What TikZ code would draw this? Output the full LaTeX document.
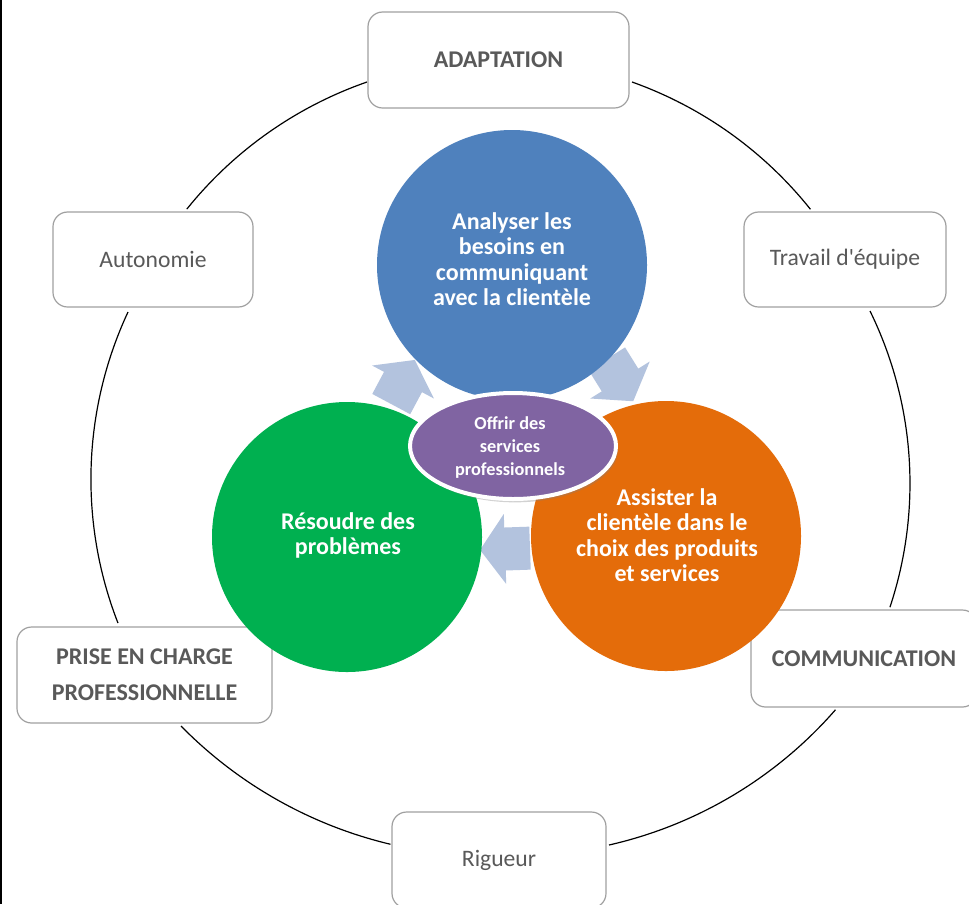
\documentclass[tikz,border=0pt]{standalone}
\usepackage{fontspec}
\setmainfont[Ligatures=TeXOff]{Carlito}
\usetikzlibrary{shapes.geometric,shadows}
\definecolor{cblue}{HTML}{4F81BD}
\definecolor{corange}{HTML}{E46C0A}
\definecolor{cgreen}{HTML}{00B050}
\definecolor{cpurple}{HTML}{8064A2}
\definecolor{carrow}{HTML}{B3C3DE}
\definecolor{boxline}{HTML}{A0A0A0}
\definecolor{tgray}{HTML}{595959}
\newcommand{\blockarrow}[2]{%
  \begin{scope}[shift={(#1)}, rotate=#2]
    \fill[carrow] (-25,-21.5) -- (0,-21.5) -- (0,-35) -- (25,0) -- (0,35) -- (0,21.5) -- (-25,21.5) -- cycle;
  \end{scope}}
\begin{document}
\begin{tikzpicture}[x=0.75pt,y=-0.75pt,
  box/.style={draw=boxline, line width=0.9pt, fill=white, rounded corners=11pt,
    text=tgray, align=center, inner sep=0pt, minimum height=96*0.75pt},
  boxbold/.style={box, font=\fontsize{18}{27}\selectfont\bfseries},
  boxreg/.style={box, font=\fontsize{17.7}{20}\selectfont},
  ring/.style={black, line width=0.9pt},
  bigcirc/.style={circle, minimum size=270*0.75pt, inner sep=0pt},
  circtext/.style={text=white, align=center, font=\fontsize{18}{19}\selectfont\bfseries}
]
\useasboundingbox (0,0) rectangle (969,904);
\clip (0,0) rectangle (969,904);
\fill[white] (0,0) rectangle (969,904);
\fill[black] (0,0) rectangle (1.5,904);

% ring segments (arcs between the boxes)
\coordinate (r1a) at (367,82);   \coordinate (r6a) at (632,82);
\coordinate (r2a) at (128,312);  \coordinate (r5a) at (870,311);
\coordinate (r3a) at (181,726);  \coordinate (r4a) at (609,845);
\draw[ring] (r1a) arc[start angle=-109.2, end angle=-141.2, radius=400];
\draw[ring] (r6a) arc[start angle=-70.4, end angle=-38.6, radius=400];
\draw[ring] (r2a) arc[start angle=-155.0, end angle=-201.3, radius=395.8];
\draw[ring] (r5a) arc[start angle=-26.1, end angle=18.4, radius=392];
\draw[ring] (r3a) arc[start angle=135.5, end angle=103.4, radius=435];
\draw[ring] (r4a) arc[start angle=77.2, end angle=41.1, radius=425.7];

% outer boxes
\node[boxbold, minimum width=261*0.75pt] (adapt) at (498.5,60) {ADAPTATION};
\node[boxreg, minimum width=200*0.75pt, minimum height=95*0.75pt] (auto) at (153,259.5) {Autonomie};
\node[boxreg, minimum width=202*0.75pt, minimum height=95*0.75pt] (trav) at (845,259.5) {Travail d'équipe};
\node[boxbold, minimum width=255*0.75pt] (prise) at (144.5,675) {PRISE EN CHARGE\\PROFESSIONNELLE};
\node[boxbold, minimum width=226*0.75pt, minimum height=97*0.75pt] (comm) at (864,658.5) {COMMUNICATION};
\node[boxreg, minimum width=214*0.75pt] (rig) at (499,860) {Rigueur};

% arrows
\blockarrow{403,382}{61.9}
\blockarrow{620,380}{-58.1}
\blockarrow{505,549}{182}

% circles
\node[bigcirc, fill=cblue] (blue) at (512,265) {};
\node[bigcirc, fill=corange] (orange) at (666,536) {};
\node[bigcirc, fill=cgreen] (green) at (347,537) {};
\node[circtext] (bluetext) at (512,259) {Analyser les\\besoins en\\communiquant\\avec la clientèle};
\node[circtext] (orangetext) at (667,535) {Assister la\\clientèle dans le\\choix des produits\\et services};
\node[circtext] (greentext) at (348,535.5) {Résoudre des\\problèmes};

% center ellipse
\node[ellipse, fill=cpurple, draw=white, line width=3pt, minimum width=206*0.75pt,
  minimum height=106*0.75pt, inner sep=0pt,
  drop shadow={shadow xshift=1.5pt, shadow yshift=-2.5pt, opacity=0.35}] (core) at (513,446) {};
\node[text=white, align=center, font=\fontsize{13.7}{17.25}\selectfont\bfseries] (coretext) at (510,448) {Offrir des\\services\\professionnels};
\end{tikzpicture}
\end{document}
